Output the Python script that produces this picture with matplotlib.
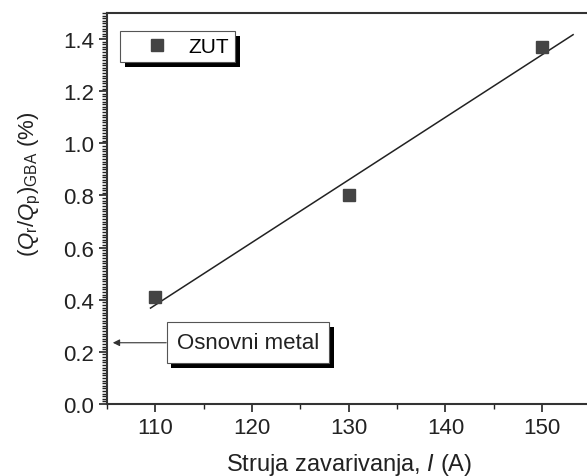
import matplotlib
matplotlib.use("Agg")
import matplotlib.pyplot as plt
import matplotlib.patheffects as pe
from matplotlib.ticker import MultipleLocator
import numpy as np

plt.rcParams['font.family'] = ['Liberation Sans', 'DejaVu Sans']
plt.rcParams['mathtext.fontset'] = 'custom'
plt.rcParams['mathtext.rm'] = 'Liberation Sans'
plt.rcParams['mathtext.it'] = 'Liberation Sans:italic'

# data
current = [110, 130, 150]
ratio = [0.41, 0.80, 1.37]
base_metal = 0.235
fit_range = [109.5, 153.2]

fig = plt.figure(figsize=(5.87, 4.77), dpi=100)
ax = fig.add_axes([107 / 587, 72 / 477, 483.5 / 587, 391 / 477])

# linear fit
k, b = np.polyfit(current, ratio, 1)
xf = np.array(fit_range)
ax.plot(xf, k * xf + b, color='#222222', lw=1.1)

ax.plot(current, ratio, 's', color='#444444', markersize=8, ls='none', label='ZUT')

ax.set_xlim(105, 155)
ax.set_ylim(0, 1.5)
ax.xaxis.set_major_locator(MultipleLocator(10))
ax.xaxis.set_minor_locator(MultipleLocator(5))
ax.yaxis.set_major_locator(MultipleLocator(0.2))
ax.yaxis.set_minor_locator(MultipleLocator(0.01))
ax.yaxis.set_major_formatter(matplotlib.ticker.FormatStrFormatter('%.1f'))
ax.tick_params(which='major', direction='out', length=6, width=1.2, labelsize=16, colors='#222222')
ax.tick_params(which='minor', direction='out', length=3.5, width=1.0, colors='#222222')
ax.tick_params(axis='y', pad=3)
for s in ['left', 'bottom', 'top']:
    ax.spines[s].set_linewidth(1.5)
    ax.spines[s].set_color('#333333')
ax.spines['right'].set_visible(False)

ax.set_xlabel('Struja zavarivanja, $\\mathit{I}$ (A)', fontsize=17, color='#222222', labelpad=9)
ax.set_ylabel('($\\mathit{Q}_{\\rm r}$/$\\mathit{Q}_{\\rm p}$)$_{\\rm GBA}$ (%)', fontsize=16,
              color='#222222')
ax.yaxis.set_label_coords(-0.133, 0.565)

shadow = [pe.SimplePatchShadow(offset=(3.5, -3.5), shadow_rgbFace='black', alpha=1.0), pe.Normal()]

leg = ax.legend(loc='upper left', bbox_to_anchor=(0.027, 0.954), borderaxespad=0,
                fancybox=False, fontsize=15, handlelength=2.98, handletextpad=0.0,
                borderpad=0.3, framealpha=1, edgecolor='#555555')
leg.get_frame().set_linewidth(0.8)
leg.get_frame().set_path_effects(shadow)

ann = ax.annotate('Osnovni metal', xy=(105.6, base_metal), xytext=(112.2, base_metal),
                  fontsize=16, color='#222222', va='center', ha='left',
                  bbox=dict(boxstyle='square,pad=0.45', fc='white', ec='#555555', lw=0.8),
                  arrowprops=dict(arrowstyle='-|>', color='#333333', lw=0.8, mutation_scale=10,
                                  shrinkA=0, shrinkB=0))
ann.get_bbox_patch().set_path_effects(shadow)

fig.savefig('out.png', dpi=100)
